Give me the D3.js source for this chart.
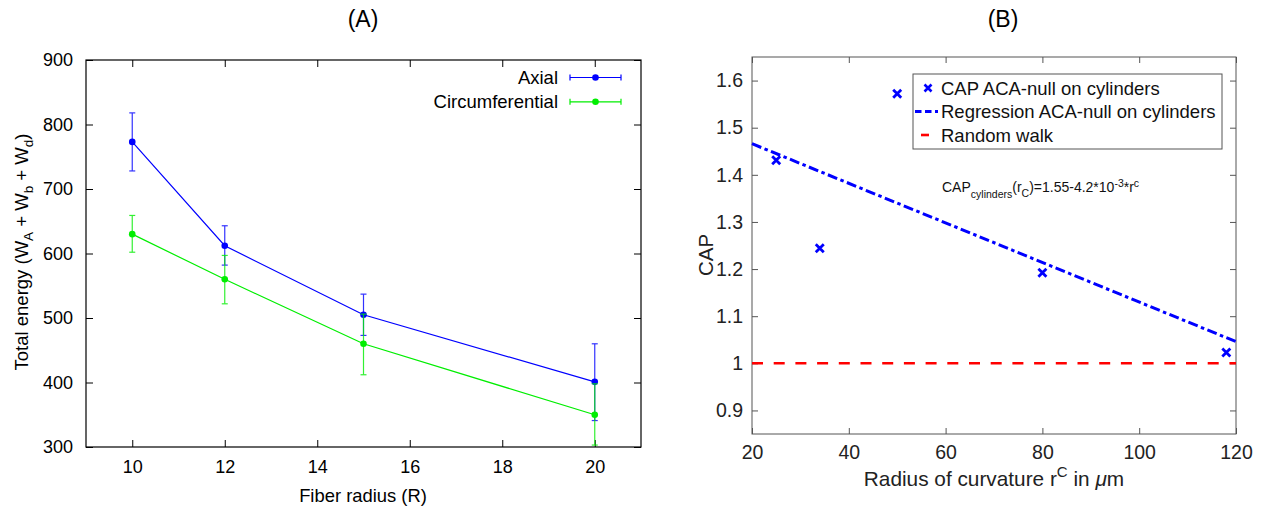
<!DOCTYPE html>
<html><head><meta charset="utf-8">
<script src="https://cdn.jsdelivr.net/npm/d3@7"></script>
<style>body{margin:0;background:#fff}text{font-family:"Liberation Sans",Arial,sans-serif}</style>
</head><body><svg id="c" width="1268" height="511"></svg>
<script>
// ---- Panel A data ----
const radii = [10, 12, 15, 20];
const axialMean = [773, 612, 505, 401];
const axialLow = [728, 582, 473, 341];
const axialHigh = [818, 643, 537, 460];
const circMean = [630, 560, 460, 350];
const circLow = [602, 522, 412, 303];
const circHigh = [659, 597, 506, 398];
const xTicksA = [10, 12, 14, 16, 18, 20];
const yTicksA = [300, 400, 500, 600, 700, 800, 900];
const seriesNamesA = ["Axial", "Circumferential"];
// ---- Panel B data ----
const capX = [25, 34, 50, 80, 118];
const capY = [1.431, 1.244, 1.572, 1.192, 1.023];
const regX = [20, 120];
const regY = [1.466, 1.046];
const rwX = [20, 120];
const rwY = [1, 1];
const xTicksB = [20, 40, 60, 80, 100, 120];
const yTicksB = [0.9, 1, 1.1, 1.2, 1.3, 1.4, 1.5, 1.6];
const legendB = ["CAP ACA-null on cylinders", "Regression ACA-null on cylinders", "Random walk"];

const svg = d3.select("#c");
const blue = "#0000ff", green = "#00ee00";

function styleAxis(g, col, fs, tc) {
  g.select(".domain").remove();
  g.selectAll(".tick line").attr("stroke", col);
  g.selectAll(".tick text").attr("font-size", fs).attr("fill", tc);
}

// ================= Panel A =================
const A = {l: 86, r: 641, t: 60, b: 447};
const xA = d3.scaleLinear().domain([9, 21]).range([A.l, A.r]);
const yA = d3.scaleLinear().domain([300, 900]).range([A.b, A.t]);
const gA = svg.append("g");
gA.append("g").attr("transform", `translate(0,${A.b})`)
  .call(d3.axisBottom(xA).tickValues(xTicksA).tickSize(-7).tickPadding(13))
  .call(g => styleAxis(g, "#000", 18, "#000"));
gA.append("g").attr("transform", `translate(0,${A.t})`)
  .call(d3.axisTop(xA).tickValues(xTicksA).tickSize(-7).tickFormat(""))
  .call(g => styleAxis(g, "#000", 18, "#000"));
gA.append("g").attr("transform", `translate(${A.l},0)`)
  .call(d3.axisLeft(yA).tickValues(yTicksA).tickSize(-7).tickPadding(13))
  .call(g => styleAxis(g, "#000", 18, "#000"));
gA.append("g").attr("transform", `translate(${A.r},0)`)
  .call(d3.axisRight(yA).tickValues(yTicksA).tickSize(-7).tickFormat(""))
  .call(g => styleAxis(g, "#000", 18, "#000"));
gA.append("rect").attr("x", A.l).attr("y", A.t).attr("width", A.r - A.l).attr("height", A.b - A.t)
  .attr("fill", "none").attr("stroke", "#000").attr("stroke-width", 1.2);

function drawSeries(mean, lo, hi, col) {
  const pts = radii.map((x, i) => ({x, m: mean[i], lo: lo[i], hi: hi[i]}));
  gA.append("path").datum(pts).attr("fill", "none").attr("stroke", col).attr("stroke-width", 1.2)
    .attr("d", d3.line().x(d => xA(d.x)).y(d => yA(d.m)));
  const eb = gA.append("g").attr("stroke", col).attr("stroke-width", 1.2).attr("opacity", 0.8);
  pts.forEach(d => {
    eb.append("line").attr("x1", xA(d.x)).attr("x2", xA(d.x)).attr("y1", yA(d.lo)).attr("y2", yA(d.hi));
    eb.append("line").attr("x1", xA(d.x) - 3).attr("x2", xA(d.x) + 3).attr("y1", yA(d.lo)).attr("y2", yA(d.lo));
    eb.append("line").attr("x1", xA(d.x) - 3).attr("x2", xA(d.x) + 3).attr("y1", yA(d.hi)).attr("y2", yA(d.hi));
  });
  gA.selectAll(null).data(pts).enter().append("circle")
    .attr("cx", d => xA(d.x)).attr("cy", d => yA(d.m)).attr("r", 3.3).attr("fill", col);
}
drawSeries(axialMean, axialLow, axialHigh, blue);
drawSeries(circMean, circLow, circHigh, green);

// legend A
[blue, green].forEach((col, i) => {
  const y = 77.5 + i * 24.3;
  gA.append("text").attr("x", 558).attr("y", y + 6.5).attr("text-anchor", "end").attr("font-size", 18.5)
    .attr("fill", "#000").text(seriesNamesA[i]);
  const lg = gA.append("g").attr("stroke", col).attr("stroke-width", 1.2);
  lg.append("line").attr("x1", 570).attr("x2", 621).attr("y1", y).attr("y2", y);
  lg.append("line").attr("x1", 570).attr("x2", 570).attr("y1", y - 3).attr("y2", y + 3);
  lg.append("line").attr("x1", 621).attr("x2", 621).attr("y1", y - 3).attr("y2", y + 3);
  gA.append("circle").attr("cx", 595.5).attr("cy", y).attr("r", 3.3).attr("fill", col);
});

// labels A
svg.append("text").attr("x", 363).attr("y", 27).attr("text-anchor", "middle").attr("font-size", 23).text("(A)");
svg.append("text").attr("x", 363).attr("y", 502).attr("text-anchor", "middle").attr("font-size", 18.4).text("Fiber radius (R)");
const yl = svg.append("text").attr("transform", "translate(28,252) rotate(-90)").attr("text-anchor", "middle").attr("font-size", 18.5);
yl.append("tspan").text("Total energy (W");
yl.append("tspan").attr("font-size", 13.5).attr("dy", 5).text("A");
yl.append("tspan").attr("dy", -5).text(" + W");
yl.append("tspan").attr("font-size", 13.5).attr("dy", 5).text("b");
yl.append("tspan").attr("dy", -5).text(" + W");
yl.append("tspan").attr("font-size", 13.5).attr("dy", 5).text("d");
yl.append("tspan").attr("dy", -5).text(")");

// ================= Panel B =================
const B = {l: 752, r: 1236, t: 57, b: 434};
const xB = d3.scaleLinear().domain([20, 120]).range([B.l, B.r]);
const yB = d3.scaleLinear().domain([0.85, 1.65]).range([B.b, B.t]);
const gB = svg.append("g");
const grey = "#555";
gB.append("g").attr("transform", `translate(0,${B.b})`)
  .call(d3.axisBottom(xB).tickValues(xTicksB).tickSize(-6).tickPadding(11))
  .call(g => styleAxis(g, grey, 19.5, "#222"));
gB.append("g").attr("transform", `translate(0,${B.t})`)
  .call(d3.axisTop(xB).tickValues(xTicksB).tickSize(-6).tickFormat(""))
  .call(g => styleAxis(g, grey, 19.5, "#222"));
gB.append("g").attr("transform", `translate(${B.l},0)`)
  .call(d3.axisLeft(yB).tickValues(yTicksB).tickSize(-6).tickPadding(9).tickFormat(d3.format("")))
  .call(g => styleAxis(g, grey, 19.5, "#222"));
gB.append("g").attr("transform", `translate(${B.r},0)`)
  .call(d3.axisRight(yB).tickValues(yTicksB).tickSize(-6).tickFormat(""))
  .call(g => styleAxis(g, grey, 19.5, "#222"));
gB.append("rect").attr("x", B.l).attr("y", B.t).attr("width", B.r - B.l).attr("height", B.b - B.t)
  .attr("fill", "none").attr("stroke", grey).attr("stroke-width", 1);

// random walk
gB.append("path").datum(rwX.map((x, i) => [x, rwY[i]])).attr("fill", "none").attr("stroke", "#ff0000")
  .attr("stroke-width", 2.6).attr("stroke-dasharray", "11,10.7")
  .attr("d", d3.line().x(d => xB(d[0])).y(d => yB(d[1])));
// regression
gB.append("path").datum(regX.map((x, i) => [x, regY[i]])).attr("fill", "none").attr("stroke", blue)
  .attr("stroke-width", 3).attr("stroke-dasharray", "10,3.5,3.5,3.5")
  .attr("d", d3.line().x(d => xB(d[0])).y(d => yB(d[1])));
// x markers
const crossPath = h => `M${-h},${-h}L${h},${h}M${-h},${h}L${h},${-h}`;
gB.selectAll(null).data(capX.map((x, i) => [x, capY[i]])).enter().append("path")
  .attr("d", crossPath(4)).attr("transform", d => `translate(${xB(d[0])},${yB(d[1])})`)
  .attr("fill", "none").attr("stroke", blue).attr("stroke-width", 2.8);

// legend B
gB.append("rect").attr("x", 913).attr("y", 74).attr("width", 309).attr("height", 75)
  .attr("fill", "#fff").attr("stroke", grey).attr("stroke-width", 1);
legendB.forEach((t, i) => {
  const y = 88 + i * 23.5;
  gB.append("text").attr("x", 941).attr("y", y + 6.5).attr("font-size", 18.5).attr("fill", "#111").text(t);
});
gB.append("path").attr("d", crossPath(3.5)).attr("transform", "translate(928,88)")
  .attr("fill", "none").attr("stroke", blue).attr("stroke-width", 2.6);
gB.append("line").attr("x1", 915).attr("x2", 938).attr("y1", 111.5).attr("y2", 111.5)
  .attr("stroke", blue).attr("stroke-width", 3).attr("stroke-dasharray", "6.5,3.5");
gB.append("line").attr("x1", 921).attr("x2", 929).attr("y1", 135).attr("y2", 135)
  .attr("stroke", "#ff0000").attr("stroke-width", 2.6);

// annotation
const an = gB.append("text").attr("x", 942).attr("y", 192).attr("font-size", 14).attr("fill", "#111");
an.append("tspan").text("CAP");
an.append("tspan").attr("font-size", 10.5).attr("dy", 6).text("cylinders");
an.append("tspan").attr("dy", -6).text("(r");
an.append("tspan").attr("font-size", 10.5).attr("dy", 4.5).text("C");
an.append("tspan").attr("dy", -4.5).text(")=1.55-4.2*10");
an.append("tspan").attr("font-size", 10.5).attr("dy", -5.5).text("-3");
an.append("tspan").attr("dy", 5.5).text("*r");
an.append("tspan").attr("font-size", 10.5).attr("dy", -5.5).text("c");

// labels B
svg.append("text").attr("x", 1003).attr("y", 27).attr("text-anchor", "middle").attr("font-size", 23).text("(B)");
const xl = svg.append("text").attr("x", 994).attr("y", 486).attr("text-anchor", "middle").attr("font-size", 20.8).attr("fill", "#222");
xl.append("tspan").text("Radius of curvature r");
xl.append("tspan").attr("font-size", 15).attr("dy", -9).text("C");
xl.append("tspan").attr("dy", 9).text(" in ");
xl.append("tspan").attr("font-style", "italic").text("μ");
xl.append("tspan").text("m");
svg.append("text").attr("transform", "translate(713,255) rotate(-90)").attr("text-anchor", "middle")
  .attr("font-size", 20.5).attr("fill", "#222").text("CAP");
</script></body></html>
